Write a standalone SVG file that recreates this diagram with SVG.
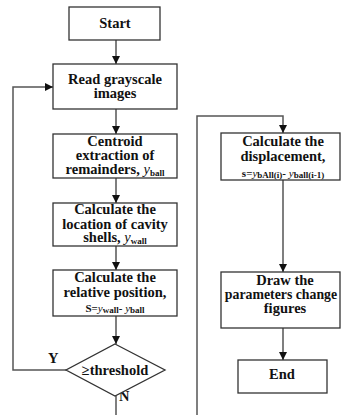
<svg xmlns="http://www.w3.org/2000/svg" width="341" height="415" viewBox="0 0 341 415">
  <defs>
    <marker id="arrow" viewBox="0 0 10 10" refX="10" refY="5" markerWidth="8" markerHeight="8" markerUnits="userSpaceOnUse" orient="auto">
      <path d="M0,0 L10,5 L0,10 z" fill="#111"/>
    </marker>
    <style>
      .box { fill: #fff; stroke: #333; stroke-width: 1.3; }
      .line { fill: none; stroke: #555; stroke-width: 1.5; }
      .arr { marker-end: url(#arrow); }
      text { font-family: 'Liberation Serif', serif; font-weight: bold; font-size: 14.5px; fill: #111; text-anchor: middle; }
      .var { font-style: italic; font-weight: normal; }
      .sub { font-size: 9px; }
      .small { font-size: 11px; }
      .lbl { text-anchor: start; }
      .tight { font-size: 13.8px; }
    </style>
  </defs>

  <rect width="341" height="415" fill="#fff"/>

  <g font-family="Liberation Serif, serif">
  <!-- connectors -->
  <g id="connectors">
    <path class="line arr" d="M116,40 V64"/>
    <path class="line arr" d="M116,109 V134"/>
    <path class="line arr" d="M116,178 V203"/>
    <path class="line arr" d="M116,246 V270"/>
    <path class="line arr" d="M116,316 V344"/>
    <path class="line arr" d="M66,370 H13 V87 H53"/>
    <path class="line" d="M116,396 V415"/>
    <path class="line arr" d="M197,415 V116 H283 V133"/>
    <path class="line arr" d="M283,180 V272"/>
    <path class="line arr" d="M283,328 V360"/>
    <text class="lbl" x="48" y="363">Y</text>
    <text class="lbl" x="119" y="401">N</text>
  </g>

  <g id="start">
    <rect class="box" x="69" y="7" width="91" height="33"/>
    <text x="115" y="28">Start</text>
  </g>

  <g id="read-images">
    <rect class="box" x="53" y="64" width="124" height="45"/>
    <text x="115" y="84">Read grayscale</text>
    <text x="115" y="98">images</text>
  </g>

  <g id="centroid">
    <rect class="box" x="53" y="134" width="124" height="44"/>
    <text x="115" y="146">Centroid</text>
    <text x="115" y="160">extraction of</text>
    <text x="115" y="174">remainders, <tspan class="var">y</tspan><tspan class="sub" dy="2">ball</tspan></text>
  </g>

  <g id="cavity-shells">
    <rect class="box" x="53" y="203" width="124" height="43"/>
    <text x="115" y="214">Calculate the</text>
    <text x="115" y="229">location of cavity</text>
    <text x="115" y="242">shells, <tspan class="var">y</tspan><tspan class="sub" dy="2">wall</tspan></text>
  </g>

  <g id="relative-position">
    <rect class="box" x="53" y="270" width="124" height="46"/>
    <text x="115" y="282">Calculate the</text>
    <text x="115" y="297">relative position,</text>
    <text x="115" y="312"><tspan class="small">S=</tspan><tspan class="var small">y</tspan><tspan class="sub" dy="1">wall</tspan><tspan class="small" dy="-1">- </tspan><tspan class="var small">y</tspan><tspan class="sub" dy="1">ball</tspan></text>
  </g>

  <g id="threshold">
    <polygon class="box" points="115,344 165,370 115,396 66,370"/>
    <text x="115" y="375">≥threshold</text>
  </g>

  <g id="displacement">
    <rect class="box" x="221" y="133" width="119" height="47"/>
    <text x="283" y="146">Calculate the</text>
    <text x="283" y="161">displacement,</text>
    <text x="283" y="177"><tspan class="small">s=</tspan><tspan class="var small">y</tspan><tspan class="sub" dy="1">bAll(i)</tspan><tspan class="small" dy="-1">- </tspan><tspan class="var small">y</tspan><tspan class="sub" dy="1">ball(i-1)</tspan></text>
  </g>

  <g id="draw-figures">
    <rect class="box" x="221" y="272" width="119" height="56"/>
    <text x="285" y="285">Draw the</text>
    <text class="tight" x="281" y="299">parameters change</text>
    <text x="285" y="313">figures</text>
  </g>

  <g id="end">
    <rect class="box" x="238" y="360" width="89" height="33"/>
    <text x="282" y="379">End</text>
  </g>
  </g>
</svg>
